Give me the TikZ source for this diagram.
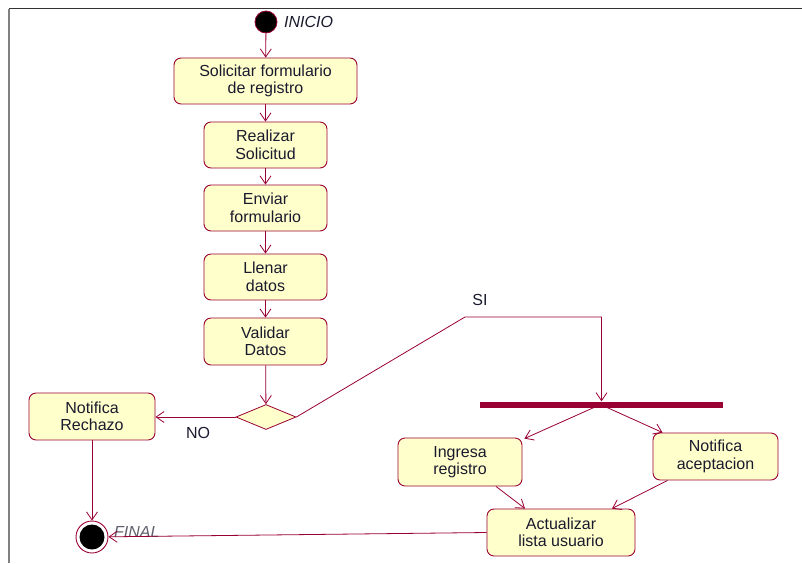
\documentclass[tikz,border=0pt]{standalone}
\usepackage{fontspec}
\setmainfont{Liberation Sans}
\usetikzlibrary{arrows.meta,shapes.geometric}
\definecolor{umlred}{HTML}{990033}
\definecolor{umlfill}{HTML}{FFFFCC}
\definecolor{umltext}{HTML}{1A1A2E}

\begin{document}
\begin{tikzpicture}[x=1pt,y=-1pt,
  font=\fontsize{16}{17.5}\selectfont,
  act/.style={draw=umlred, fill=umlfill, rounded corners=7pt, line width=0.9pt,
              align=center, text=umltext, inner sep=0pt},
  flow/.style={draw=umlred, line width=0.8pt, -{Straight Barb[length=8pt,width=11pt]}},
  lbl/.style={text=umltext, inner sep=0pt},
]
% canvas and frame
\useasboundingbox (0,0) rectangle (802,563);
\fill[white] (0,0) rectangle (802,563);
\draw[line width=1.5pt, black!80] (9,8.5) -- (802,8.5);
\draw[line width=2pt, black!50] (9,8.5) -- (9,563);

% initial state
\node[circle, fill=black, draw=umlred, line width=0.8pt, minimum size=22pt, inner sep=0pt] (start) at (266,22) {};
\node[lbl, anchor=west, font=\fontsize{16}{17.5}\selectfont\itshape] (inicio) at (284,22) {INICIO};

% main sequence of activities
\node[act, minimum width=183pt, minimum height=46pt] (b1) at (265.5,81) {Solicitar formulario\\de registro};
\node[act, minimum width=123pt, minimum height=46pt] (b2) at (265.5,145) {Realizar\\Solicitud};
\node[act, minimum width=123pt, minimum height=46pt] (b3) at (265.5,208) {Enviar\\formulario};
\node[act, minimum width=123pt, minimum height=46pt] (b4) at (265.5,277) {Llenar\\datos};
\node[act, minimum width=123pt, minimum height=47pt] (b5) at (265.5,341.5) {Validar\\Datos};

% decision
\node[diamond, draw=umlred, fill=umlfill, line width=0.8pt, inner sep=0pt,
      minimum width=60pt, minimum height=25pt] (dec) at (266,417) {};

% rejection branch
\node[act, minimum width=126pt, minimum height=47pt] (rech) at (92,416.5) {Notifica\\Rechazo};

% fork bar and acceptance branch
\node[fill=umlred, minimum width=243pt, minimum height=6pt, inner sep=0pt] (bar) at (601.5,404.5) {};
\node[act, minimum width=124pt, minimum height=48pt] (ing) at (460,462) {Ingresa\\registro};
\node[act, minimum width=125pt, minimum height=47pt] (acep) at (715.5,456.5) {Notifica\\aceptacion};
\node[act, minimum width=148pt, minimum height=47pt] (actu) at (561,532.5) {Actualizar\\lista usuario};

% final state
\node[circle, draw=umlred, fill=white, line width=0.9pt, minimum size=32pt, inner sep=0pt] (fin) at (92,537) {};
\fill[black] (fin.center) circle (12.5pt);
\node[lbl, anchor=west, font=\fontsize{16}{17.5}\selectfont\itshape, text=umltext!70] (final) at (114,532) {FINAL};

% transitions
\draw[flow] (start) -- (b1);
\draw[flow] (b1) -- (b2);
\draw[flow] (b2) -- (b3);
\draw[flow] (b3) -- (b4);
\draw[flow] (b4) -- (b5);
\draw[flow] (b5) -- (dec);
\draw[flow] (dec.west) -- (dec.west -| rech.east);
\node[lbl] (no) at (198,433) {NO};

\coordinate (sibend) at (465,317);
\draw[flow] (dec.east) -- (sibend) -| (bar.north);
\node[lbl] (si) at (480,300) {SI};

\draw[flow] ([xshift=-8pt]bar.south) -- ([xshift=2pt,yshift=-1pt]ing.north east);
\draw[flow] ([xshift=6pt]bar.south) -- ([xshift=10pt]acep.north west);
\draw[flow] ([xshift=36pt]ing.south) -- ([xshift=-36pt]actu.north);
\draw[flow] ([xshift=-48pt]acep.south) -- ([xshift=51pt]actu.north);

\draw[flow] (rech.south) -- (fin);
\draw[flow] (actu.west) -- (fin);
\end{tikzpicture}
\end{document}
